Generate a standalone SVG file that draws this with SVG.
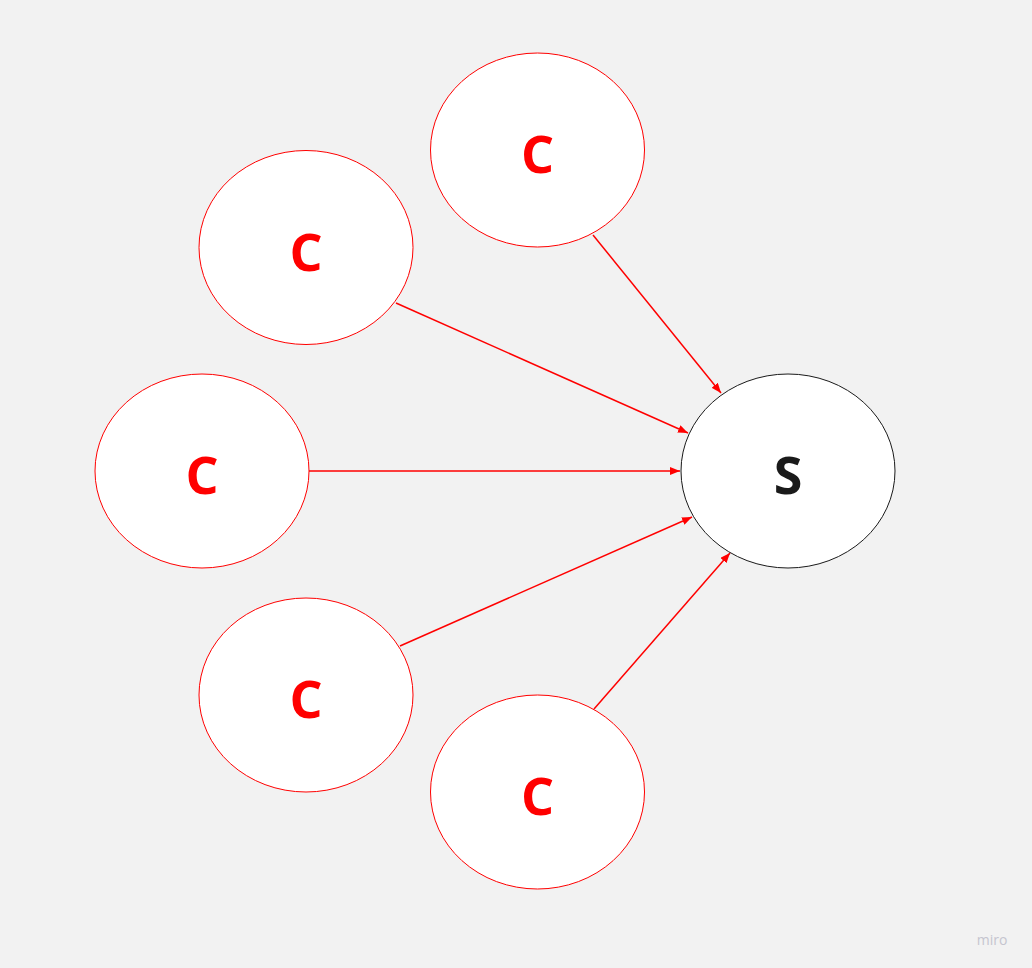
<svg xmlns="http://www.w3.org/2000/svg" width="1032" height="968" viewBox="0 0 1032 968">
<style>
.c ellipse{fill:#fff;stroke:#ff0000;stroke-width:1}
.s ellipse{fill:#fff;stroke:#1a1a1a;stroke-width:1}
.lbl{font-family:"Open Sans","Noto Sans",sans-serif;font-weight:bold;font-size:52px;text-anchor:middle}
.c text{fill:#ff0000}
.s text{fill:#1a1a1a}
.e{stroke:#ff0000;stroke-width:1.5;fill:none;marker-end:url(#ah)}
</style>
<defs>
<marker id="ah" viewBox="0 0 10 8" refX="10" refY="4" markerWidth="10" markerHeight="8" markerUnits="userSpaceOnUse" orient="auto">
<path d="M0,0 L10,4 L0,8 Z" fill="#ff0000"/>
</marker>
</defs>
<rect width="1032" height="968" fill="#f2f2f2"/>
<g id="edges">
<line class="e" x1="593" y1="235" x2="721" y2="393"/>
<line class="e" x1="396" y1="303" x2="688" y2="433"/>
<line class="e" x1="309" y1="471" x2="680" y2="471"/>
<line class="e" x1="400" y1="646" x2="692" y2="517"/>
<line class="e" x1="594" y1="709" x2="730" y2="553"/>
</g>
<g id="c1" class="c"><ellipse cx="537.5" cy="150" rx="107" ry="97"/><text class="lbl" x="537.5" y="173">C</text></g>
<g id="c2" class="c"><ellipse cx="306" cy="247.5" rx="107" ry="97"/><text class="lbl" x="306" y="271">C</text></g>
<g id="c3" class="c"><ellipse cx="202" cy="471" rx="107" ry="97"/><text class="lbl" x="202" y="494">C</text></g>
<g id="c4" class="c"><ellipse cx="306" cy="695" rx="107" ry="97"/><text class="lbl" x="306" y="718">C</text></g>
<g id="c5" class="c"><ellipse cx="537.5" cy="792" rx="107" ry="97"/><text class="lbl" x="537.5" y="815">C</text></g>
<g id="s" class="s"><ellipse cx="788" cy="471" rx="107" ry="97"/><text class="lbl" x="788" y="494">S</text></g>
<text x="992" y="945" font-family="'Open Sans',sans-serif" font-size="14" fill="#c5c5cf" text-anchor="middle">miro</text>
</svg>
